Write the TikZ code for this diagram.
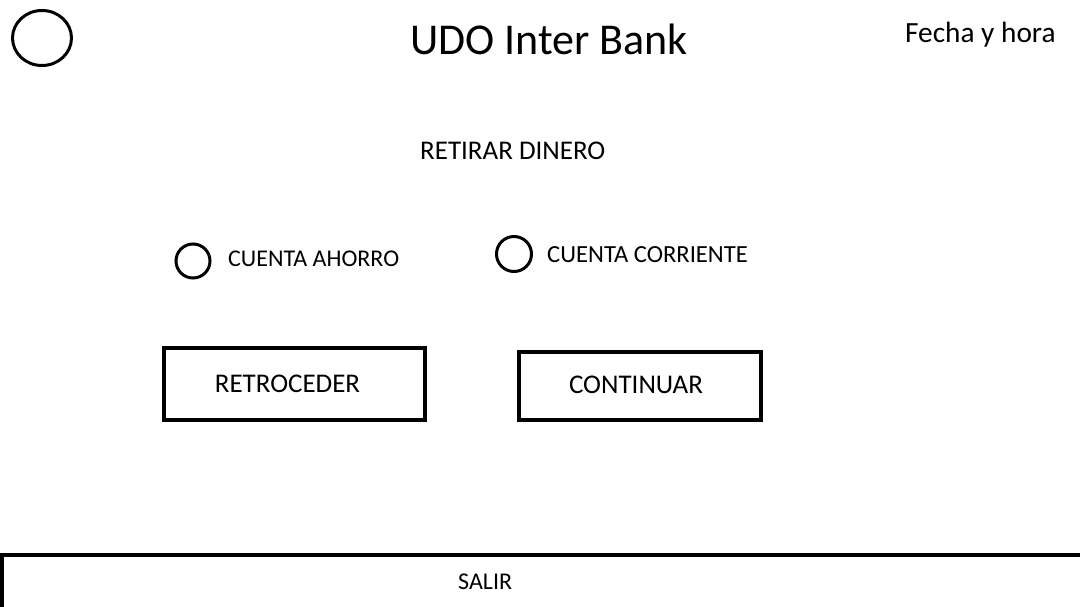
\documentclass[tikz,border=0pt]{standalone}
\usepackage{fontspec}
\setmainfont{Carlito}
\usepackage{tikz}

\begin{document}
\begin{tikzpicture}[x=1pt, y=-1pt,
    outline/.style={draw=black, line width=3pt},
    label/.style={anchor=base west, inner sep=0pt, font=\fontsize{24}{28}\selectfont},
    button/.style={draw=black, line width=4pt, inner sep=0pt, font=\fontsize{27}{32}\selectfont}]
    \useasboundingbox (0,0) rectangle (1080,607);
    \begin{scope}
    \clip (0,0) rectangle (1080,607);

    % cabecera
    \draw[outline] (42,38) ellipse (29.5 and 27.5);
    \node[label, font=\fontsize{44}{50}\selectfont] (titulo) at (410,55) {UDO Inter Bank};
    \node[label, font=\fontsize{29.3}{34}\selectfont] (fecha) at (905,43) {Fecha y hora};

    \node[label, font=\fontsize{27}{32}\selectfont] (retirar) at (420,160) {RETIRAR DINERO};

    % tipo de cuenta
    \node[outline, circle, minimum size=34pt, inner sep=0pt] (ahorro) at (193,261) {};
    \node[label] (ahorrotxt) at (228,266) {CUENTA AHORRO};
    \node[outline, circle, minimum size=35pt, inner sep=0pt] (corriente) at (514,254) {};
    \node[label, font=\fontsize{24.6}{29}\selectfont] (corrientetxt) at (547,262) {CUENTA CORRIENTE};

    % botones
    \node[button, minimum width=261pt, minimum height=72pt] (retro) at (294.5,384) {RETROCEDER\kern14pt};
    \node[button, minimum width=242pt, minimum height=68pt] (continuar) at (640,386) {\raisebox{2pt}{CONTINUAR}\kern8pt};

    % barra inferior
    \draw[line width=4pt] (2,640) -- (2,555) -- (1100,555);
    \node[label] (salir) at (458,589) {SALIR};
    \end{scope}

  \end{tikzpicture}
\end{document}
